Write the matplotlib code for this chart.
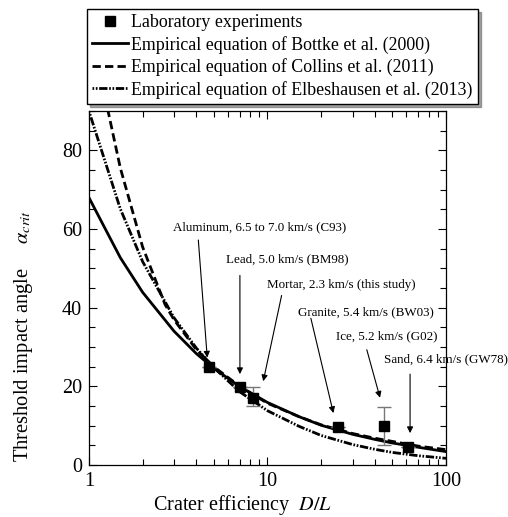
import numpy as np
import matplotlib
matplotlib.use("Agg")
import matplotlib.pyplot as plt
from matplotlib.ticker import MultipleLocator, FixedLocator, FixedFormatter

plt.rcParams['font.family'] = ['Liberation Serif', 'DejaVu Serif']
plt.rcParams['mathtext.fontset'] = 'stix'

# Laboratory experiments
exp_x = [4.7, 7.0, 8.3, 24.9, 45.0, 61.0]
exp_y = [24.8, 19.8, 17.0, 9.7, 9.8, 4.7]
exp_err_lo = [0, 0, 2.0, 0, 4.8, 0]
exp_err_hi = [0, 0, 2.8, 0, 5.0, 0]

# Empirical curves, points
bottke_x = [1, 1.5, 2, 3, 4, 5, 7, 10, 15, 20, 30, 40, 50, 70, 100]
bottke_y = [68.0, 52.7, 43.9, 34.0, 28.3, 24.6, 19.9, 15.9, 12.3, 10.1, 7.8, 6.5, 5.6, 4.5, 3.4]

collins_x = [1.2, 1.28, 1.5, 2, 2.67, 3, 4, 5, 7, 10, 15, 20, 30, 40, 50, 70, 100]
collins_y = [96.8, 90.0, 75.5, 55.4, 40.8, 36.9, 29.3, 25.0, 20.0, 15.7, 12.3, 10.2, 8.0, 6.8, 6.0, 4.8, 3.9]

elbes_x = [1, 1.5, 2, 3, 4, 5, 7, 10, 15, 20, 30, 40, 50, 70, 100]
elbes_y = [90.0, 65.1, 51.7, 37.4, 29.7, 24.8, 18.6, 13.8, 9.85, 7.5, 5.2, 3.98, 3.2, 2.35, 1.7]

# annotations: label, text position, arrow tail, arrow head
notes = [
    ("Aluminum, 6.5 to 7.0 km/s (C93)", (9.08, 60.5), (4.10, 57.2), (4.60, 27.3)),
    ("Lead, 5.0 km/s (BM98)", (12.9, 52.3), (7.01, 48.2), (7.01, 23.1)),
    ("Mortar, 2.3 km/s (this study)", (25.8, 45.8), (12.0, 43.1), (9.47, 21.3)),
    ("Granite, 5.4 km/s (BW03)", (35.4, 38.9), (17.5, 37.3), (23.4, 13.2)),
    ("Ice, 5.2 km/s (G02)", (46.7, 32.7), (36.0, 29.3), (42.7, 17.1)),
    ("Sand, 6.4 km/s (GW78)", (99.4, 26.9), (62.9, 23.1), (62.9, 8.1)),
]

fig = plt.figure(figsize=(5.08, 5.17), dpi=100)
ax = fig.add_axes([0.175, 0.1006, 0.703, 0.6847])

ax.plot(bottke_x, bottke_y, color='black', lw=2.0, ls='-',
        label='Empirical equation of Bottke et al. (2000)')
ax.plot(collins_x, collins_y, color='black', lw=2.0, ls=(0, (3, 1.5)),
        label='Empirical equation of Collins et al. (2011)')
ax.plot(elbes_x, elbes_y, color='black', lw=2.0, ls=(0, (0.6, 0.6, 0.6, 0.6, 3, 0.6)),
        label='Empirical equation of Elbeshausen et al. (2013)')

ax.errorbar(exp_x, exp_y, yerr=[exp_err_lo, exp_err_hi], fmt='none',
            ecolor='#777777', elinewidth=1.0, capsize=5, capthick=1.0, zorder=3)
ax.plot(exp_x, exp_y, 's', color='black', ms=7, ls='none', zorder=4,
        label='Laboratory experiments')

for txt, tpos, tail, head in notes:
    ax.text(tpos[0], tpos[1], txt, fontsize=9.4, ha='center', va='center', zorder=5)
    ax.annotate('', xy=head, xytext=tail,
                arrowprops=dict(arrowstyle='-|>', color='black', lw=0.8,
                                mutation_scale=9, shrinkA=0, shrinkB=0))

ax.set_xscale('log')
ax.set_xlim(1, 100)
ax.set_ylim(0, 90)
ax.xaxis.set_major_locator(FixedLocator([1, 10, 100]))
ax.xaxis.set_major_formatter(FixedFormatter(['1', '10', '100']))
ax.yaxis.set_major_locator(MultipleLocator(20))
ax.yaxis.set_minor_locator(MultipleLocator(5))
ax.tick_params(which='both', direction='in', top=True, right=True, labelsize=14.5, pad=5)
ax.tick_params(which='major', length=6, width=0.8)
ax.tick_params(which='minor', length=4, width=0.8)
for s in ax.spines.values():
    s.set_linewidth(0.9)

ax.set_xlabel('Crater efficiency  $D/L$', fontsize=14.5)
ax.xaxis.set_label_coords(0.43, -0.08)
ax.set_ylabel(r'Threshold impact angle  $\quad\alpha_{crit}$', fontsize=14.8)
ax.yaxis.set_label_coords(-0.15, 0.365)

handles, labels = ax.get_legend_handles_labels()
order = [3, 0, 1, 2]
leg = ax.legend([handles[i] for i in order], [labels[i] for i in order],
                loc='lower left', bbox_to_anchor=(-0.005, 1.02), fontsize=12.9,
                frameon=True, fancybox=False, shadow=True, edgecolor='black',
                handlelength=2.0, handletextpad=0.15, borderpad=0.3,
                labelspacing=0.25, borderaxespad=0)
leg.get_frame().set_linewidth(1.0)

fig.savefig('out.png', dpi=100)
